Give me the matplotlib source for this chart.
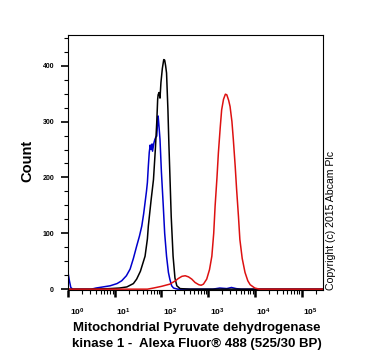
import numpy as np
import matplotlib
matplotlib.use("Agg")
import matplotlib.pyplot as plt
from matplotlib.ticker import FixedLocator, NullFormatter
from matplotlib.transforms import ScaledTranslation

plt.rcParams['font.family'] = ['Liberation Sans', 'DejaVu Sans']
plt.rcParams['mathtext.fontset'] = 'custom'
plt.rcParams['mathtext.rm'] = 'Liberation Sans:bold'
plt.rcParams['mathtext.bf'] = 'Liberation Sans:bold'

# log10 fluorescence intensity and counts
black_logx = [0.0, 0.5, 0.9, 1.1, 1.26, 1.40, 1.47, 1.55, 1.65, 1.70, 1.72, 1.78, 1.83, 1.87, 1.90,
              1.92, 1.93, 1.95, 1.97, 1.99, 2.02, 2.05, 2.07, 2.09, 2.11, 2.14, 2.16, 2.18, 2.21,
              2.25, 2.29, 2.33, 2.40, 2.6, 5.46]
black_cnt = [0, 0, 1, 2, 4, 10, 18, 32, 59, 90, 113, 160, 196, 250, 298,
             340, 348, 352, 342, 370, 395, 411, 410, 400, 387, 320, 260, 209, 130,
             59, 20, 6, 1, 0, 0]

blue_logx = [0.0, 0.03, 0.06, 0.1, 0.5, 0.6, 0.9, 1.05, 1.15, 1.25, 1.33, 1.40, 1.47, 1.53, 1.58,
             1.62, 1.65, 1.68, 1.70, 1.72, 1.74, 1.76, 1.78, 1.80, 1.81, 1.84, 1.86, 1.88, 1.90,
             1.92, 1.93, 1.95, 1.97, 2.00, 2.04, 2.07, 2.11, 2.15, 2.18, 2.22, 2.26, 2.35, 3.1,
             3.25, 3.4, 3.5, 3.6, 3.7, 5.46]
blue_cnt = [30, 15, 3, 0, 0, 2, 6, 10, 15, 24, 36, 55, 77, 95, 113,
            135, 155, 175, 191, 220, 245, 258, 250, 260, 247, 262, 268, 272, 274,
            300, 310, 290, 268, 210, 149, 100, 59, 30, 18, 6, 2, 0, 0,
            2, 1, 3, 1, 0, 0]

red_logx = [0.0, 1.7, 1.83, 2.0, 2.18, 2.30, 2.36, 2.44, 2.51, 2.58, 2.65, 2.72, 2.80, 2.85, 2.90,
            2.97, 3.03, 3.08, 3.12, 3.15, 3.19, 3.22, 3.26, 3.29, 3.33, 3.37, 3.40, 3.44, 3.47,
            3.51, 3.54, 3.58, 3.61, 3.65, 3.68, 3.73, 3.79, 3.85, 3.90, 4.0, 4.1, 5.46]
red_cnt = [0, 0, 2, 5, 9, 15, 19, 23, 24, 22, 18, 12, 8, 7, 9,
           18, 35, 59, 100, 149, 200, 244, 290, 321, 340, 349, 348, 338, 327,
           300, 268, 220, 179, 130, 89, 55, 30, 15, 8, 2, 0, 0]

y_ticks = [0, 100, 200, 300, 400]
x_decades = [0, 1, 2, 3, 4, 5]

fig = plt.figure(figsize=(3.70, 3.58), dpi=100)
ax = fig.add_axes([68/370, 1-290/358, (323-68)/370, (290-35)/358])

ax.plot(np.power(10.0, blue_logx), blue_cnt, color='#0000CC', lw=1.1)
ax.plot(np.power(10.0, black_logx), black_cnt, color='black', lw=1.1)
ax.plot(np.power(10.0, red_logx), red_cnt, color='#DD1111', lw=1.1)

ax.set_xscale('log')
ax.set_xlim(1, 10**5.46)
ax.set_ylim(-1.5, 455)

for s in ax.spines.values():
    s.set_linewidth(0.8)

ax.set_yticks(y_ticks)
ax.set_yticklabels([str(v) for v in y_ticks], fontsize=5, fontweight='bold')
ax.yaxis.set_minor_locator(FixedLocator(np.arange(25, 455, 25)))
ax.tick_params(axis='y', which='major', length=5, width=1.2, pad=5)
ax.tick_params(axis='y', which='minor', length=3, width=0.8)

ax.set_xticks([10.0**d for d in x_decades])
ax.set_xticklabels([r'$\mathbf{10^{%d}}$' % d for d in x_decades], fontsize=6)
minors = [m * 10.0**d for d in range(0, 6) for m in range(2, 10) if m * 10.0**d < 10**5.46]
ax.xaxis.set_minor_locator(FixedLocator(minors))
ax.xaxis.set_minor_formatter(NullFormatter())
ax.tick_params(axis='x', which='major', length=5, width=1.8, pad=7)
ax.tick_params(axis='x', which='minor', length=3, width=0.8)
for lab in ax.get_xticklabels():
    lab.set_transform(lab.get_transform() + ScaledTranslation(9/100, 0, fig.dpi_scale_trans))

fig.text(27/370, 1-161/358, 'Count', rotation=90, ha='center', va='center',
         fontsize=10.5, fontweight='bold')
fig.text(197/370, 1-328/358, 'Mitochondrial Pyruvate dehydrogenase', ha='center', va='center',
         fontsize=9.5, fontweight='bold')
fig.text(197/370, 1-344/358, 'kinase 1 -  Alexa Fluor\u00ae 488 (525/30 BP)', ha='center', va='center',
         fontsize=9.5, fontweight='bold')
fig.text(331/370, 1-221/358, 'Copyright (c) 2015 Abcam Plc', rotation=90, ha='center', va='center',
         fontsize=7.6)

fig.savefig('out.png', dpi=100)
